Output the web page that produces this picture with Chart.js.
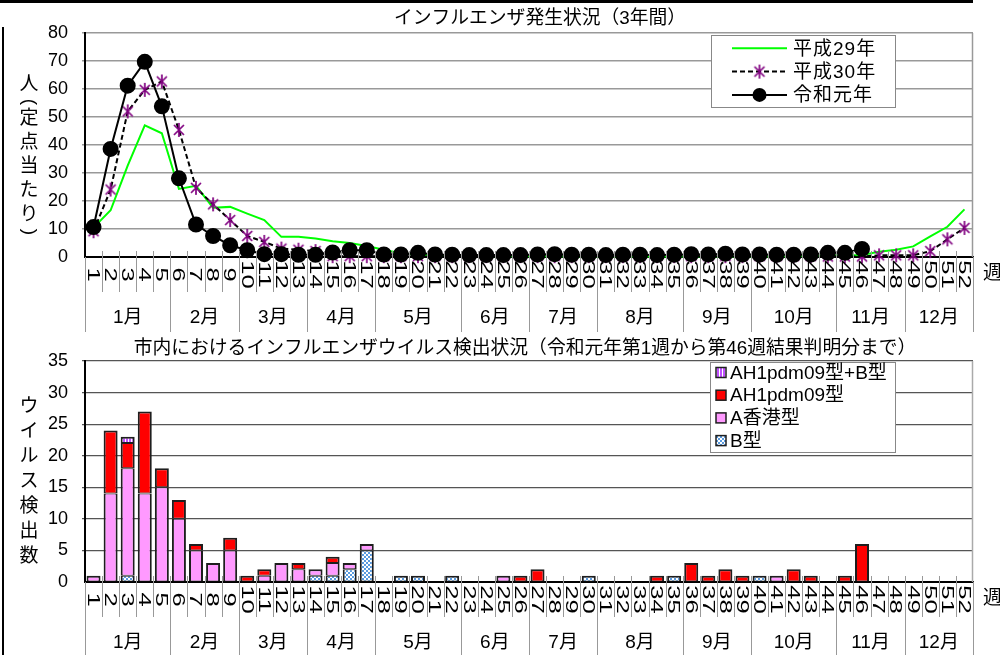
<!DOCTYPE html>
<html>
<head>
<meta charset="utf-8">
<script src="https://cdn.jsdelivr.net/npm/chart.js@4/dist/chart.umd.min.js"></script>
<style>
  body { margin: 0; background: #fff; width: 1000px; height: 655px; position: relative; overflow: hidden; }
  #c1 { position: absolute; left: 0; top: 0; }
  #c2 { position: absolute; left: 0; top: 332px; }
  .rule-top { position: absolute; left: 0; top: 0; width: 973px; height: 3px; background: #000; }
  .rule-left { position: absolute; left: 2px; top: 27px; width: 2px; height: 628px; background: #000; }
</style>
</head>
<body>
<canvas id="c1" width="1000" height="332"></canvas>
<canvas id="c2" width="1000" height="323"></canvas>
<div class="rule-top"></div>
<div class="rule-left"></div>
<script>
// week labels and month groups
const weeks = Array.from({ length: 52 }, (_, i) => String(i + 1));
const months = ['1月', '2月', '3月', '4月', '5月', '6月', '7月', '8月', '9月', '10月', '11月', '12月'];
const monthWeeks = [5, 4, 4, 4, 5, 4, 4, 5, 4, 5, 4, 4];

// top chart: patients per sentinel site
const h29 = [10.5, 16.7, 32.6, 47.0, 44.2, 24.3, 25.4, 17.6, 17.9, 15.5, 13.2, 7.2, 7.2, 6.6, 5.6, 5.0, 3.9, 2.6, 1.3, 0.8,
             0.6, 0.5, 0.4, 0.4, 0.3, 0.3, 0.3, 0.3, 0.2, 0.2, 0.2, 0.2, 0.2, 0.2, 0.2, 0.2, 0.2, 0.2, 0.2, 0.2,
             0.3, 0.3, 0.4, 0.5, 0.6, 0.7, 1.9, 2.6, 3.8, 7.4, 10.8, 17.0];
const h30 = [9.2, 24.1, 52.0, 59.7, 62.7, 45.4, 24.7, 18.8, 13.2, 7.5, 5.4, 3.0, 2.6, 2.1, 0.3, 0.3, 0.3, 0.3, 0.3, 0.3,
             0.3, 0.3, 0.3, 0.3, 0.3, 0.3, 0.3, 0.3, 0.3, 0.3, 0.3, 0.3, 0.3, 0.3, 0.3, 0.3, 0.3, 0.3, 0.3, 0.3,
             0.3, 0.3, 0.3, 0.2, 0.2, 0.2, 0.6, 0.6, 0.6, 2.1, 6.3, 10.4];
const r1 = [10.7, 38.6, 61.2, 69.7, 53.8, 28.1, 11.6, 7.5, 4.2, 2.4, 1.0, 1.0, 0.8, 0.8, 1.6, 2.4, 2.4, 0.9, 0.9, 1.5,
            0.9, 0.8, 0.7, 0.7, 0.7, 0.7, 0.9, 1.0, 0.8, 0.8, 0.7, 0.8, 0.8, 0.7, 0.8, 1.0, 0.9, 1.2, 0.9, 0.9,
            0.8, 0.8, 0.9, 1.5, 1.5, 2.9];

// bottom chart: virus detections (stack order bottom -> top)
const bType     = [0, 0, 1, 0, 0, 0, 0, 0, 0, 0, 0, 0, 0, 1, 1, 2, 5, 0, 1, 1, 0, 1, 0, 0, 0, 0,
                   0, 0, 0, 1, 0, 0, 0, 0, 1, 0, 0, 0, 0, 1, 0, 0, 0, 0, 0, 0, 0, 0, 0, 0, 0, 0];
const aHongKong = [1, 14, 17, 14, 15, 10, 5, 3, 5, 0, 1, 3, 2, 1, 2, 1, 1, 0, 0, 0, 0, 0, 0, 0, 1, 0,
                   0, 0, 0, 0, 0, 0, 0, 0, 0, 0, 0, 0, 0, 0, 1, 0, 0, 0, 0, 0, 0, 0, 0, 0, 0, 0];
const ah1pdm09  = [0, 10, 4, 13, 3, 3, 1, 0, 2, 1, 1, 0, 1, 0, 1, 0, 0, 0, 0, 0, 0, 0, 0, 0, 0, 1,
                   2, 0, 0, 0, 0, 0, 0, 1, 0, 3, 1, 2, 1, 0, 0, 2, 1, 0, 1, 6, 0, 0, 0, 0, 0, 0];
const ah1pdm09B = [0, 0, 1, 0, 0, 0, 0, 0, 0, 0, 0, 0, 0, 0, 0, 0, 0, 0, 0, 0, 0, 0, 0, 0, 0, 0,
                   0, 0, 0, 0, 0, 0, 0, 0, 0, 0, 0, 0, 0, 0, 0, 0, 0, 0, 0, 0, 0, 0, 0, 0, 0, 0];

const FONT = '"Liberation Sans", "Noto Sans CJK JP", sans-serif';

// asterisk marker like the spreadsheet one (vertical bar + X)
const star = document.createElement('canvas');
star.width = star.height = 16;
(function () {
    const g = star.getContext('2d');
    g.strokeStyle = '#800080';
    g.lineWidth = 1.7;
    g.beginPath();
    g.moveTo(8, 1); g.lineTo(8, 15);
    g.moveTo(3, 3); g.lineTo(13, 13);
    g.moveTo(13, 3); g.lineTo(3, 13);
    g.stroke();
})();

// vertical axis title, brackets turned on their side
function drawVertical(ctx, text, x, y, advance, parenAdvance) {
    ctx.save();
    ctx.font = '19px ' + FONT;
    ctx.textAlign = 'center';
    ctx.textBaseline = 'middle';
    ctx.fillStyle = '#000';
    let prev = null;
    for (const ch of text) {
        const paren = ch === '（' || ch === '）';
        if (prev !== null) y += (paren || prev) ? parenAdvance : advance;
        ctx.save();
        ctx.translate(x, y);
        if (paren) {
            ctx.rotate(Math.PI / 2);
            ctx.fillText(ch === '（' ? '(' : ')', 0, 0);
        } else {
            ctx.fillText(ch, 0, 0);
        }
        ctx.restore();
        prev = paren;
    }
    ctx.restore();
}

// x axis, frame, titles and legend drawn around the chart area
function decor(cfg) {
    return {
        id: 'decor',
        beforeDatasetsDraw(chart) {
            const { ctx, chartArea: a } = chart;
            ctx.save();
            ctx.strokeStyle = cfg.frameColor;
            ctx.lineWidth = 1.5;
            ctx.beginPath();
            ctx.moveTo(a.right - 0.5, a.top);
            ctx.lineTo(a.right - 0.5, a.bottom);
            ctx.stroke();
            ctx.restore();
        },
        afterDraw(chart) {
            const { ctx, chartArea: a, scales: { x } } = chart;
            const half = (x.getPixelForValue(1) - x.getPixelForValue(0)) / 2;
            const edge = i => x.getPixelForValue(i) - half;
            const ends = new Set([0]);
            let acc = 0;
            monthWeeks.forEach(n => { acc += n; ends.add(acc); });

            ctx.save();
            ctx.strokeStyle = '#999';
            ctx.lineWidth = 1;
            for (let i = 0; i <= weeks.length; i++) {
                const px = Math.round(edge(i)) + 0.5;
                const inner = i > 0 && i < weeks.length;
                ctx.beginPath();
                ctx.moveTo(px, a.bottom - (inner ? 6 : 0));
                ctx.lineTo(px, ends.has(i) ? chart.height : a.bottom + 35);
                ctx.stroke();
            }

            // week numbers, rotated to read top to bottom
            ctx.fillStyle = '#000';
            ctx.font = '16px ' + FONT;
            ctx.textAlign = 'center';
            ctx.textBaseline = 'alphabetic';
            weeks.forEach((w, i) => {
                ctx.save();
                ctx.translate(x.getPixelForValue(i), a.bottom + 17.5);
                ctx.rotate(Math.PI / 2);
                ctx.scale(1.6, 1);
                ctx.fillText(w, 0, 5.7);
                ctx.restore();
            });

            // months
            ctx.font = '19px ' + FONT;
            ctx.textBaseline = 'middle';
            let start = 0;
            months.forEach((m, k) => {
                const end = start + monthWeeks[k];
                ctx.fillText(m, (edge(start) + edge(end)) / 2, a.bottom + 61);
                start = end;
            });

            ctx.textAlign = 'left';
            ctx.fillText('週', 983, a.bottom + 17);

            // title
            ctx.font = '18.8px ' + FONT;
            ctx.textAlign = 'center';
            ctx.fillText(cfg.title, cfg.titleX, cfg.titleY);
            ctx.restore();

            drawVertical(ctx, cfg.yTitle, 29, cfg.yTitleY, cfg.yAdvance, 17);
            cfg.legend(chart);
        }
    };
}

// ---------- top chart ----------
const c1 = document.getElementById('c1');
new Chart(c1, {
    type: 'line',
    data: {
        labels: weeks,
        datasets: [
            { label: '令和元年', data: r1, borderColor: '#000', borderWidth: 2, pointStyle: 'circle', pointRadius: 7,
              pointBackgroundColor: '#000', pointBorderColor: '#000', order: 0, clip: false },
            { label: '平成30年', data: h30, borderColor: '#000', borderWidth: 2, borderDash: [5, 3], pointStyle: star,
              pointRadius: 7, order: 1, clip: false },
            { label: '平成29年', data: h29, borderColor: '#00ff00', borderWidth: 2, pointRadius: 0, order: 2, clip: false }
        ]
    },
    options: {
        responsive: false,
        animation: false,
        events: [],
        layout: { padding: { left: 0, right: 27, top: 33, bottom: 0 } },
        plugins: { legend: { display: false }, tooltip: { enabled: false } },
        scales: {
            x: {
                offset: true,
                grid: { display: false },
                ticks: { display: false },
                border: { display: true, color: '#000', width: 2 },
                afterFit: s => { s.height = 75; }
            },
            y: {
                min: 0, max: 80,
                ticks: { stepSize: 10, color: '#000', padding: 14, font: { size: 18, family: FONT } },
                grid: { color: c => c.tick.value === 0 ? 'rgba(0,0,0,0)' : '#999', lineWidth: 1.5, tickLength: 3 },
                border: { color: '#000', width: 2 },
                afterFit: s => { s.width = 85; }
            }
        }
    },
    plugins: [decor({
        frameColor: '#999',
        title: 'インフルエンザ発生状況（3年間）', titleX: 540, titleY: 19,
        yTitle: '人（定点当たり）', yTitleY: 85, yAdvance: 24,
        legend(chart) {
            const ctx = chart.ctx;
            ctx.save();
            ctx.fillStyle = '#fff';
            ctx.fillRect(711, 35, 184, 72);
            ctx.strokeStyle = '#888';
            ctx.lineWidth = 1;
            ctx.strokeRect(711.5, 35.5, 184, 72);
            const order = [2, 1, 0];
            order.forEach((d, r) => {
                const ds = chart.data.datasets[d];
                const y = 48.3 + r * 23.3;
                ctx.strokeStyle = ds.borderColor;
                ctx.lineWidth = 2;
                ctx.setLineDash(ds.borderDash || []);
                ctx.beginPath();
                ctx.moveTo(732, y);
                ctx.lineTo(787, y);
                ctx.stroke();
                ctx.setLineDash([]);
                if (ds.pointStyle === 'circle') {
                    ctx.fillStyle = '#000';
                    ctx.beginPath();
                    ctx.arc(759.5, y, 7, 0, Math.PI * 2);
                    ctx.fill();
                } else if (ds.pointStyle === star) {
                    ctx.drawImage(star, 759.5 - 8, y - 8);
                }
                ctx.fillStyle = '#000';
                ctx.font = '19px ' + FONT;
                ctx.letterSpacing = '1px';
                ctx.textAlign = 'left';
                ctx.textBaseline = 'middle';
                ctx.fillText(ds.label, 793, y + 1);
            });
            ctx.restore();
        }
    })]
});

// ---------- bottom chart ----------
const c2 = document.getElementById('c2');
const g2 = c2.getContext('2d');

function makePattern(draw, w, h) {
    const t = document.createElement('canvas');
    t.width = w; t.height = h;
    draw(t.getContext('2d'));
    return g2.createPattern(t, 'repeat');
}
const checker = makePattern(g => {
    g.fillStyle = '#fff'; g.fillRect(0, 0, 4, 4);
    g.fillStyle = '#5a9be0'; g.fillRect(0, 0, 2, 2); g.fillRect(2, 2, 2, 2);
}, 4, 4);
const stripes = makePattern(g => {
    g.fillStyle = '#fff'; g.fillRect(0, 0, 3, 1);
    g.fillStyle = '#c050ff'; g.fillRect(0, 0, 2, 1);
}, 3, 1);

const stack = [bType, aHongKong, ah1pdm09, ah1pdm09B];
function isTop(d, i) {
    for (let k = d + 1; k < stack.length; k++) if (stack[k][i]) return false;
    return true;
}
const barStyle = {
    barPercentage: 0.82,
    categoryPercentage: 1,
    borderColor: '#1e1e1e',
    borderSkipped: false,
    borderWidth: c => ({ left: 2, right: 2, bottom: 1, top: isTop(c.datasetIndex, c.dataIndex) ? 2 : 1 })
};

new Chart(c2, {
    type: 'bar',
    data: {
        labels: weeks,
        datasets: [
            { label: 'B型', data: bType.map(v => v || null), backgroundColor: checker, ...barStyle },
            { label: 'A香港型', data: aHongKong.map(v => v || null), backgroundColor: '#ff99ff', ...barStyle },
            { label: 'AH1pdm09型', data: ah1pdm09.map(v => v || null), backgroundColor: '#ff0000', ...barStyle },
            { label: 'AH1pdm09型+B型', data: ah1pdm09B.map(v => v || null), backgroundColor: stripes, ...barStyle }
        ]
    },
    options: {
        responsive: false,
        animation: false,
        events: [],
        layout: { padding: { left: 0, right: 27, top: 29, bottom: 0 } },
        plugins: { legend: { display: false }, tooltip: { enabled: false } },
        scales: {
            x: {
                stacked: true,
                grid: { display: false },
                ticks: { display: false },
                border: { display: true, color: '#000', width: 2 },
                afterFit: s => { s.height = 73; }
            },
            y: {
                stacked: true,
                min: 0, max: 35,
                ticks: { stepSize: 5, color: '#000', padding: 14, font: { size: 18, family: FONT } },
                grid: { color: c => c.tick.value === 0 ? 'rgba(0,0,0,0)' : '#555', lineWidth: 1.2, tickLength: 3 },
                border: { color: '#000', width: 2 },
                afterFit: s => { s.width = 85; }
            }
        }
    },
    plugins: [decor({
        frameColor: '#aaa',
        title: '市内におけるインフルエンザウイルス検出状況（令和元年第1週から第46週結果判明分まで）', titleX: 525, titleY: 17,
        yTitle: 'ウイルス検出数', yTitleY: 75, yAdvance: 25,
        legend(chart) {
            const ctx = chart.ctx;
            ctx.save();
            ctx.fillStyle = '#fff';
            ctx.fillRect(710, 30, 185, 90);
            ctx.strokeStyle = '#888';
            ctx.lineWidth = 1;
            ctx.strokeRect(710.5, 30.5, 185, 90);
            [3, 2, 1, 0].forEach((d, r) => {
                const ds = chart.data.datasets[d];
                const y = 40.5 + r * 22.7;
                ctx.fillStyle = ds.backgroundColor;
                ctx.fillRect(716, y - 5, 10, 10);
                ctx.strokeStyle = '#1e1e1e';
                ctx.lineWidth = 1.5;
                ctx.strokeRect(716, y - 5, 10, 10);
                ctx.fillStyle = '#000';
                ctx.font = '19px ' + FONT;
                ctx.textAlign = 'left';
                ctx.textBaseline = 'middle';
                ctx.fillText(ds.label, 730, y + 1);
            });
            ctx.restore();
        }
    })]
});
</script>
</body>
</html>
